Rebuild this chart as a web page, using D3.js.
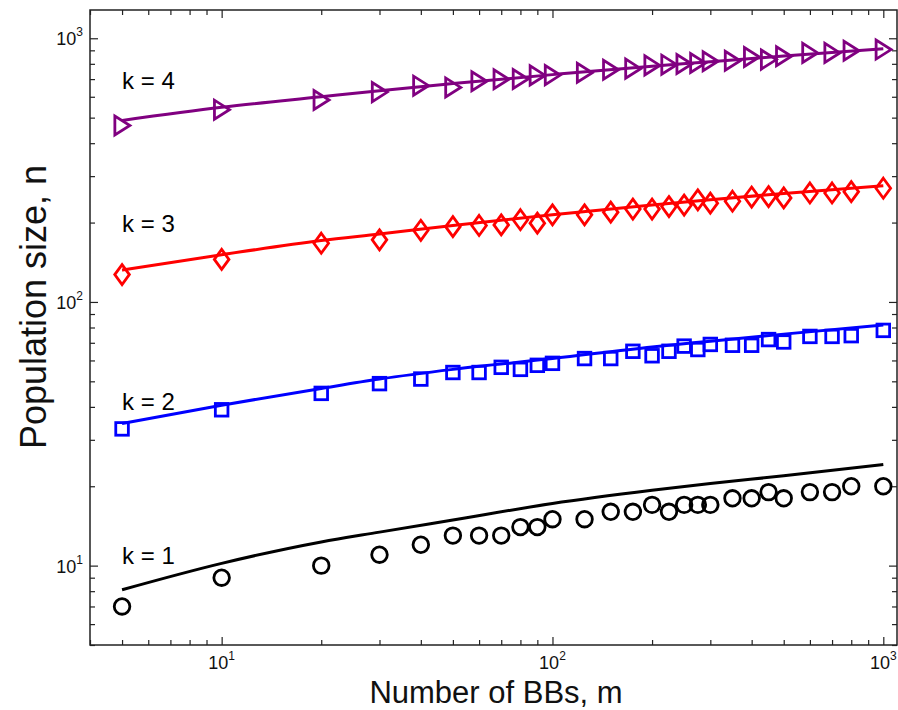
<!DOCTYPE html>
<html><head><meta charset="utf-8">
<script src="https://cdn.jsdelivr.net/npm/d3@7"></script>
<style>
body{margin:0;background:#fff;}
svg{display:block;font-family:"Liberation Sans",Arial,sans-serif;}
</style></head>
<body><svg id="c" width="898" height="710"></svg>
<script>
// ---- data ----
const mValues = [5,10,20,30,40,50,60,70,80,90,100,125,150,175,200,225,250,275,300,350,400,450,500,600,700,800,1000];
const k1Points = [7,9,10,11,12,13,13,13,14,14,15,15,16,16,17,16,17,17,17,18,18,19,18,19,19,20,20];
const k2Points = [33,39,45,49,51,54,54,56.5,55.5,57.5,58.5,61,61,65,62.5,65,68,66,69,68.5,68.5,72,70.5,74,74,74.5,78];
const k3Points = [127,145,167,172,187,193,195,196,205,199,214,214,219,225,225,230,233,244,237,241,250,251,248,259,259,262,270];
const k4Points = [467,536,583,625,661,651,687,699,701,723,725,740,760,767,789,794,799,806,818,822,849,830,855,880,880,897,906];
const lineM = [5,10,20,30,50,100,200,300,500,1000];
const k1Line = [8.1,10.2,12.3,13.4,14.9,17.2,19.3,20.5,21.9,24.2];
const k2Line = [34.6,40.6,47,51,55.5,61,67.5,71,75.5,81.8];
const k3Line = [132,151,171,181,195,214,233,244,258,276];
const k4Line = [488,547,600,633,673,728,784,815,857,913];
const seriesLabels = ["k = 1","k = 2","k = 3","k = 4"];
const xTickLabels = ["10","1","10","2","10","3"];
const xMajor = [10,100,1000];
const yMajor = [10,100,1000];
const xTitle = "Number of BBs, m";
const yTitle = "Population size, n";

// ---- layout ----
const L=90,R=897,T=10,B=645;
const svg=d3.select("#c");
const x=d3.scaleLog().domain([4,1100]).range([L,R]);
const y=d3.scaleLog().domain([5,1280]).range([B,T]);

function minorTicks(dom){
  const out=[];
  for(let e=0;e<=4;e++){for(let d=1;d<=9;d++){const v=d*Math.pow(10,e); if(v>=dom[0]&&v<=dom[1]&&d!==1) out.push(v);}}
  return out;
}
const xMinor=minorTicks(x.domain()), yMinor=minorTicks(y.domain());

function styleAxis(g){g.selectAll("path").remove();g.selectAll("line").attr("stroke","#222").attr("stroke-width",1.2);g.selectAll("text").remove();}
svg.append("g").attr("transform",`translate(0,${B})`).call(d3.axisBottom(x).tickValues(xMajor).tickSize(-8)).call(styleAxis);
svg.append("g").attr("transform",`translate(0,${B})`).call(d3.axisBottom(x).tickValues(xMinor).tickSize(-5)).call(styleAxis);
svg.append("g").attr("transform",`translate(0,${T})`).call(d3.axisTop(x).tickValues(xMajor).tickSize(-8)).call(styleAxis);
svg.append("g").attr("transform",`translate(0,${T})`).call(d3.axisTop(x).tickValues(xMinor).tickSize(-5)).call(styleAxis);
svg.append("g").attr("transform",`translate(${L},0)`).call(d3.axisLeft(y).tickValues(yMajor).tickSize(-8)).call(styleAxis);
svg.append("g").attr("transform",`translate(${L},0)`).call(d3.axisLeft(y).tickValues(yMinor).tickSize(-5)).call(styleAxis);
svg.append("g").attr("transform",`translate(${R},0)`).call(d3.axisRight(y).tickValues(yMajor).tickSize(-8)).call(styleAxis);
svg.append("g").attr("transform",`translate(${R},0)`).call(d3.axisRight(y).tickValues(yMinor).tickSize(-5)).call(styleAxis);

svg.append("rect").attr("x",L).attr("y",T).attr("width",R-L).attr("height",B-T)
  .attr("fill","none").attr("stroke","#222").attr("stroke-width",1.5);

// tick labels
xMajor.forEach((v,i)=>{
  const t=svg.append("text").attr("x",x(v)).attr("y",669).attr("text-anchor","middle")
    .attr("font-size",18).attr("fill","#111");
  t.append("tspan").text(xTickLabels[2*i]);
  t.append("tspan").attr("font-size",12).attr("dy",-9).text(xTickLabels[2*i+1]);
});
yMajor.forEach((v,i)=>{
  const t=svg.append("text").attr("x",83).attr("y",y(v)+7).attr("text-anchor","end")
    .attr("font-size",18).attr("fill","#111");
  t.append("tspan").text(xTickLabels[2*i]);
  t.append("tspan").attr("font-size",12).attr("dy",-9).text(xTickLabels[2*i+1]);
});

// axis titles
svg.append("text").attr("x",496).attr("y",703).attr("text-anchor","middle")
  .attr("font-size",31).attr("fill","#111").text(xTitle);
svg.append("text").attr("transform","translate(46,307) rotate(-90)").attr("text-anchor","middle")
  .attr("font-size",36).attr("fill","#111").text(yTitle);

// lines
const line=d3.line().x(d=>x(d[0])).y(d=>y(d[1])).curve(d3.curveMonotoneX);
const lg=svg.append("g");
const lines=[[k1Line,"#000"],[k2Line,"#0000ff"],[k3Line,"#ff0000"],[k4Line,"#800080"]];
lines.forEach(([vals,c])=>{
  lg.append("path").attr("d",line(lineM.map((m,i)=>[m,vals[i]])))
    .attr("fill","none").attr("stroke",c).attr("stroke-width",3);
});

// markers
const sw=2.8;
const g=svg.append("g").attr("fill","none").attr("stroke-width",sw);
g.selectAll(".c").data(mValues.map((m,i)=>[m,k1Points[i]])).join("circle")
  .attr("cx",d=>x(d[0])).attr("cy",d=>y(d[1])).attr("r",7.8).attr("stroke","#000");
g.selectAll(".s").data(mValues.map((m,i)=>[m,k2Points[i]])).join("rect")
  .attr("x",d=>x(d[0])-6.3).attr("y",d=>y(d[1])-6.3).attr("width",12.6).attr("height",12.6).attr("stroke","#0000ff");
g.selectAll(".d").data(mValues.map((m,i)=>[m,k3Points[i]])).join("path")
  .attr("transform",d=>`translate(${x(d[0])},${y(d[1])})`)
  .attr("d","M0,-10L7.3,0L0,10L-7.3,0Z").attr("stroke","#ff0000").attr("stroke-linejoin","miter");
g.selectAll(".t").data(mValues.map((m,i)=>[m,k4Points[i]])).join("path")
  .attr("transform",d=>`translate(${x(d[0])},${y(d[1])})`)
  .attr("d","M-7.2,-9.5L-7.2,9.5L7.8,0Z").attr("stroke","#800080").attr("stroke-linejoin","miter");

// series labels
const labelPos=[[5,564],[5,410],[5,232],[5,89]];
seriesLabels.forEach((s,i)=>{
  svg.append("text").attr("x",x(labelPos[i][0])).attr("y",labelPos[i][1])
    .attr("font-size",24).attr("fill","#000").text(s);
});
</script></body></html>
